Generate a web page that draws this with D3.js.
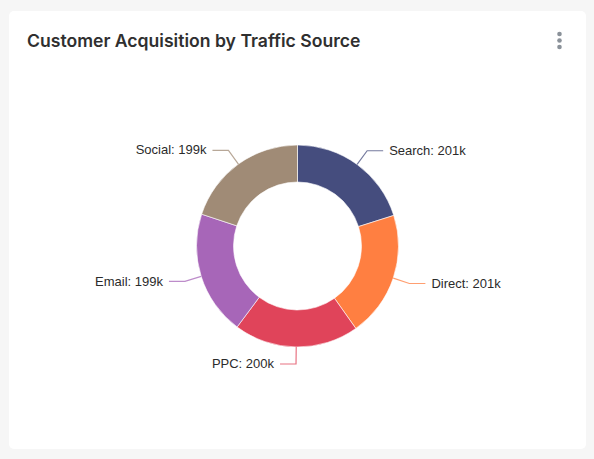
<!DOCTYPE html>
<html>
<head>
<meta charset="utf-8">
<script src="https://cdn.jsdelivr.net/npm/d3@7"></script>
<style>
  html, body { margin: 0; padding: 0; background: #f6f6f6; }
  svg { display: block; }
</style>
</head>
<body>
<svg id="chart" width="594" height="459"></svg>
<script>
const title = "Customer Acquisition by Traffic Source";
const categories = ["Search", "Direct", "PPC", "Email", "Social"];
const values = [201, 201, 200, 199, 199]; // thousands
const colors = ["#454d7e", "#ff7f41", "#e0445a", "#a766b8", "#a08b76"];

const svg = d3.select("#chart");
const W = 594, H = 459;

// card
svg.append("rect").attr("x", 9).attr("y", 11).attr("width", 577).attr("height", 438)
  .attr("rx", 5).attr("fill", "#ffffff");

svg.append("text").attr("x", 27).attr("y", 47)
  .attr("font-family", "Inter, Roboto, 'Noto Sans', sans-serif")
  .attr("font-weight", 600).attr("font-size", 17.6)
  .attr("fill", "#2f2f2f").text(title);

// kebab
[34, 40.5, 47].forEach(y => {
  svg.append("circle").attr("cx", 559.5).attr("cy", y).attr("r", 2.3).attr("fill", "#8a9199");
});

const cx = 297.5, cy = 246, rOuter = 101, rInner = 64, rLine = 118, hLen = 16;
const data = categories.map((c, i) => ({ name: c, value: values[i], color: colors[i] }));
const pie = d3.pie().sort(null).value(d => d.value);
const arcs = pie(data);
const arc = d3.arc().innerRadius(rInner).outerRadius(rOuter);

const g = svg.append("g").attr("transform", `translate(${cx},${cy})`);
g.selectAll("path.slice").data(arcs).join("path")
  .attr("class", "slice")
  .attr("d", arc)
  .attr("fill", d => d.data.color)
  .attr("stroke", "#ffffff").attr("stroke-width", 0.6);

const pt = (a, r) => [r * Math.sin(a), -r * Math.cos(a)];
arcs.forEach(d => {
  const a = (d.startAngle + d.endAngle) / 2;
  const p1 = pt(a, rOuter), p2 = pt(a, rLine);
  const side = Math.sin(a) >= 0 ? 1 : -1;
  const p3 = [p2[0] + side * hLen, p2[1]];
  g.append("polyline")
    .attr("points", [p1, p2, p3].map(p => p.join(",")).join(" "))
    .attr("fill", "none").attr("stroke", d.data.color)
    .attr("stroke-opacity", 0.75).attr("stroke-width", 1.2);
  g.append("text")
    .attr("x", p3[0] + side * 6).attr("y", p3[1])
    .attr("dy", "0.32em")
    .attr("text-anchor", side > 0 ? "start" : "end")
    .attr("font-family", "'Liberation Sans', Arial, sans-serif")
    .attr("font-size", 13).attr("fill", "#2b2b2b")
    .text(`${d.data.name}: ${d.data.value}k`);
});
</script>
</body>
</html>
